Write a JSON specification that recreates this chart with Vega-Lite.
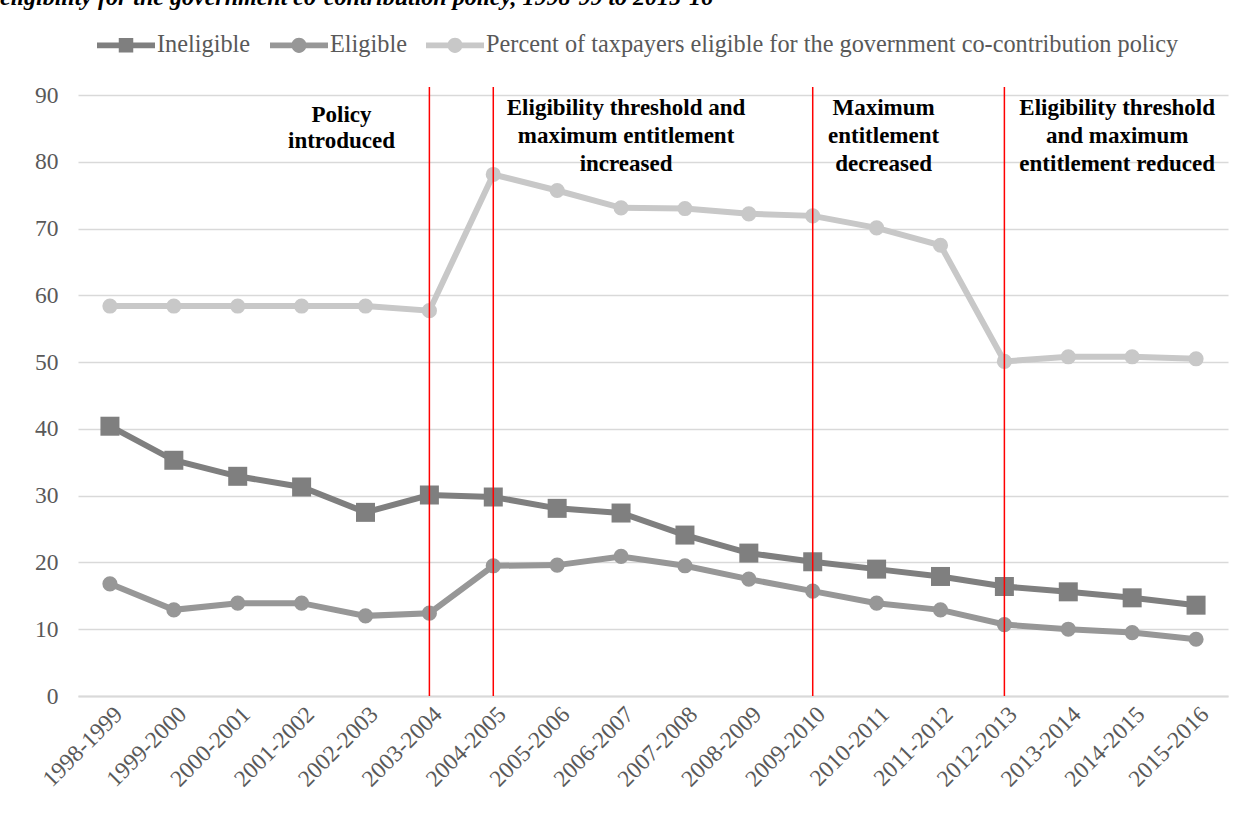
{
  "$schema": "https://vega.github.io/schema/vega-lite/v6.json",
  "width": 1150,
  "height": 601,
  "autosize": {"type": "none"},
  "padding": {"left": 78, "top": 95, "right": 24, "bottom": 118},
  "background": "#ffffff",
  "title": {
    "text": "eligibility for the government co-contribution policy, 1998-99 to 2015-16",
    "anchor": "start",
    "frame": "group",
    "font": "Liberation Serif",
    "fontSize": 24,
    "fontStyle": "italic",
    "fontWeight": "bold",
    "color": "#000000",
    "baseline": "alphabetic",
    "offset": -13,
    "dx": -78
  },
  "datasets": {
    "series": [
      {"period": "1998-1999", "series": "Ineligible", "value": 40.4},
      {"period": "1999-2000", "series": "Ineligible", "value": 35.3},
      {"period": "2000-2001", "series": "Ineligible", "value": 32.9},
      {"period": "2001-2002", "series": "Ineligible", "value": 31.3},
      {"period": "2002-2003", "series": "Ineligible", "value": 27.5},
      {"period": "2003-2004", "series": "Ineligible", "value": 30.1},
      {"period": "2004-2005", "series": "Ineligible", "value": 29.8},
      {"period": "2005-2006", "series": "Ineligible", "value": 28.1},
      {"period": "2006-2007", "series": "Ineligible", "value": 27.4},
      {"period": "2007-2008", "series": "Ineligible", "value": 24.1},
      {"period": "2008-2009", "series": "Ineligible", "value": 21.4},
      {"period": "2009-2010", "series": "Ineligible", "value": 20.1},
      {"period": "2010-2011", "series": "Ineligible", "value": 19.0},
      {"period": "2011-2012", "series": "Ineligible", "value": 17.9},
      {"period": "2012-2013", "series": "Ineligible", "value": 16.4},
      {"period": "2013-2014", "series": "Ineligible", "value": 15.6},
      {"period": "2014-2015", "series": "Ineligible", "value": 14.7},
      {"period": "2015-2016", "series": "Ineligible", "value": 13.6},
      {"period": "1998-1999", "series": "Eligible", "value": 16.8},
      {"period": "1999-2000", "series": "Eligible", "value": 12.9},
      {"period": "2000-2001", "series": "Eligible", "value": 13.9},
      {"period": "2001-2002", "series": "Eligible", "value": 13.9},
      {"period": "2002-2003", "series": "Eligible", "value": 12.0},
      {"period": "2003-2004", "series": "Eligible", "value": 12.4},
      {"period": "2004-2005", "series": "Eligible", "value": 19.5},
      {"period": "2005-2006", "series": "Eligible", "value": 19.6},
      {"period": "2006-2007", "series": "Eligible", "value": 20.9},
      {"period": "2007-2008", "series": "Eligible", "value": 19.5},
      {"period": "2008-2009", "series": "Eligible", "value": 17.5},
      {"period": "2009-2010", "series": "Eligible", "value": 15.7},
      {"period": "2010-2011", "series": "Eligible", "value": 13.9},
      {"period": "2011-2012", "series": "Eligible", "value": 12.9},
      {"period": "2012-2013", "series": "Eligible", "value": 10.7},
      {"period": "2013-2014", "series": "Eligible", "value": 10.0},
      {"period": "2014-2015", "series": "Eligible", "value": 9.5},
      {"period": "2015-2016", "series": "Eligible", "value": 8.5},
      {"period": "1998-1999", "series": "Percent of taxpayers eligible for the government co-contribution policy", "value": 58.4},
      {"period": "1999-2000", "series": "Percent of taxpayers eligible for the government co-contribution policy", "value": 58.4},
      {"period": "2000-2001", "series": "Percent of taxpayers eligible for the government co-contribution policy", "value": 58.4},
      {"period": "2001-2002", "series": "Percent of taxpayers eligible for the government co-contribution policy", "value": 58.4},
      {"period": "2002-2003", "series": "Percent of taxpayers eligible for the government co-contribution policy", "value": 58.4},
      {"period": "2003-2004", "series": "Percent of taxpayers eligible for the government co-contribution policy", "value": 57.7},
      {"period": "2004-2005", "series": "Percent of taxpayers eligible for the government co-contribution policy", "value": 78.1},
      {"period": "2005-2006", "series": "Percent of taxpayers eligible for the government co-contribution policy", "value": 75.7},
      {"period": "2006-2007", "series": "Percent of taxpayers eligible for the government co-contribution policy", "value": 73.1},
      {"period": "2007-2008", "series": "Percent of taxpayers eligible for the government co-contribution policy", "value": 73.0},
      {"period": "2008-2009", "series": "Percent of taxpayers eligible for the government co-contribution policy", "value": 72.2},
      {"period": "2009-2010", "series": "Percent of taxpayers eligible for the government co-contribution policy", "value": 71.9},
      {"period": "2010-2011", "series": "Percent of taxpayers eligible for the government co-contribution policy", "value": 70.1},
      {"period": "2011-2012", "series": "Percent of taxpayers eligible for the government co-contribution policy", "value": 67.5},
      {"period": "2012-2013", "series": "Percent of taxpayers eligible for the government co-contribution policy", "value": 50.1},
      {"period": "2013-2014", "series": "Percent of taxpayers eligible for the government co-contribution policy", "value": 50.8},
      {"period": "2014-2015", "series": "Percent of taxpayers eligible for the government co-contribution policy", "value": 50.8},
      {"period": "2015-2016", "series": "Percent of taxpayers eligible for the government co-contribution policy", "value": 50.5}
    ],
    "changes": [
      {"period": "2003-2004", "bottom": 0, "top": 91.2},
      {"period": "2004-2005", "bottom": 0, "top": 91.2},
      {"period": "2009-2010", "bottom": 0, "top": 91.2},
      {"period": "2012-2013", "bottom": 0, "top": 91.2}
    ]
  },
  "encoding": {
    "x": {
      "field": "period",
      "type": "ordinal",
      "sort": null,
      "scale": {"type": "point", "padding": 0.5},
      "axis": {
        "title": null,
        "labelAngle": -45,
        "labelFont": "Liberation Serif",
        "labelFontSize": 23.5,
        "labelColor": "#595959",
        "labelPadding": 6,
        "ticks": false,
        "domainColor": "#d9d9d9",
        "domainWidth": 2,
        "grid": false
      }
    }
  },
  "layer": [
    {
      "data": {"name": "series"},
      "mark": {"type": "line", "strokeWidth": 6, "clip": false},
      "encoding": {
        "y": {
          "field": "value",
          "type": "quantitative",
          "scale": {"domain": [0, 90], "nice": false, "zero": true},
          "axis": {
            "title": null,
            "values": [0, 10, 20, 30, 40, 50, 60, 70, 80, 90],
            "labelFont": "Liberation Serif",
            "labelFontSize": 23.5,
            "labelColor": "#595959",
            "labelPadding": 20,
            "ticks": false,
            "domain": false,
            "gridColor": "#d9d9d9",
            "gridWidth": 1.6
          }
        },
        "color": {
          "field": "series",
          "type": "nominal",
          "sort": null,
          "scale": {
            "domain": ["Ineligible", "Eligible", "Percent of taxpayers eligible for the government co-contribution policy"],
            "range": ["#7f7f7f", "#979797", "#c8c8c8"]
          }
        },
        "detail": {"field": "series"}
      }
    },
    {
      "data": {"name": "series"},
      "transform": [{"filter": "datum.series === 'Ineligible'"}],
      "mark": {"type": "point", "shape": "square", "size": 361, "filled": true, "opacity": 1, "strokeWidth": 0},
      "encoding": {
        "y": {"field": "value", "type": "quantitative"},
        "color": {"field": "series", "type": "nominal", "sort": null}
      }
    },
    {
      "data": {"name": "series"},
      "transform": [{"filter": "datum.series !== 'Ineligible'"}],
      "mark": {"type": "point", "shape": "circle", "size": 230, "filled": true, "opacity": 1, "strokeWidth": 0},
      "encoding": {
        "y": {"field": "value", "type": "quantitative"},
        "color": {"field": "series", "type": "nominal", "sort": null}
      }
    },
    {
      "data": {"name": "series"},
      "mark": {"type": "point", "filled": true, "opacity": 0, "size": 10, "strokeWidth": 0},
      "encoding": {
        "y": {"field": "value", "type": "quantitative"},
        "color": {
          "field": "series",
          "type": "nominal",
          "sort": null,
          "legend": {
            "title": null,
            "orient": "none",
            "direction": "horizontal",
            "legendX": 19,
            "legendY": -79,
            "labelFont": "Liberation Serif",
            "labelFontSize": 24.3,
            "labelColor": "#595959",
            "labelOffset": 2,
            "labelLimit": 0,
            "columnPadding": 19,
            "symbolSize": 3364,
            "symbolStrokeWidth": 0,
            "symbolOpacity": 1
          }
        },
        "shape": {
          "field": "series",
          "type": "nominal",
          "sort": null,
          "scale": {
            "domain": ["Ineligible", "Eligible", "Percent of taxpayers eligible for the government co-contribution policy"],
            "range": [
              "M-1,-0.1L1,-0.1L1,0.1L-1,0.1Z M-0.25,-0.25L0.25,-0.25L0.25,0.25L-0.25,0.25Z",
              "M-1,-0.1L1,-0.1L1,0.1L-1,0.1Z M-0.26,0A0.26,0.26,0,1,1,0.26,0A0.26,0.26,0,1,1,-0.26,0Z",
              "M-1,-0.1L1,-0.1L1,0.1L-1,0.1Z M-0.26,0A0.26,0.26,0,1,1,0.26,0A0.26,0.26,0,1,1,-0.26,0Z"
            ]
          },
          "legend": {
            "title": null,
            "orient": "none",
            "direction": "horizontal",
            "legendX": 19,
            "legendY": -79,
            "labelFont": "Liberation Serif",
            "labelFontSize": 24.3,
            "labelColor": "#595959",
            "labelOffset": 2,
            "labelLimit": 0,
            "columnPadding": 19,
            "symbolSize": 3364,
            "symbolStrokeWidth": 0,
            "symbolOpacity": 1
          }
        }
      }
    },
    {
      "data": {"name": "changes"},
      "mark": {"type": "rule", "color": "#ff0000", "strokeWidth": 1.5, "clip": false},
      "encoding": {
        "y": {"field": "bottom", "type": "quantitative"},
        "y2": {"field": "top"}
      }
    },
    {
      "data": {"values": [{"period": "2002-2003", "y": 87.0, "label": ["Policy", "introduced"]}]},
      "mark": {"type": "text", "font": "Liberation Serif", "fontSize": 23, "fontWeight": "bold", "color": "#000000", "lineHeight": 26, "baseline": "middle", "align": "center", "dx": -24},
      "encoding": {
        "y": {"field": "y", "type": "quantitative"},
        "text": {"field": "label"}
      }
    },
    {
      "data": {"values": [{"period": "2006-2007", "y": 88.0, "label": ["Eligibility threshold and", "maximum entitlement", "increased"]}]},
      "mark": {"type": "text", "font": "Liberation Serif", "fontSize": 23, "fontWeight": "bold", "color": "#000000", "lineHeight": 28, "baseline": "middle", "align": "center", "dx": 5},
      "encoding": {
        "y": {"field": "y", "type": "quantitative"},
        "text": {"field": "label"}
      }
    },
    {
      "data": {"values": [{"period": "2010-2011", "y": 88.0, "label": ["Maximum", "entitlement", "decreased"]}]},
      "mark": {"type": "text", "font": "Liberation Serif", "fontSize": 23, "fontWeight": "bold", "color": "#000000", "lineHeight": 28, "baseline": "middle", "align": "center", "dx": 7},
      "encoding": {
        "y": {"field": "y", "type": "quantitative"},
        "text": {"field": "label"}
      }
    },
    {
      "data": {"values": [{"period": "2014-2015", "y": 88.0, "label": ["Eligibility threshold", "and maximum", "entitlement reduced"]}]},
      "mark": {"type": "text", "font": "Liberation Serif", "fontSize": 23, "fontWeight": "bold", "color": "#000000", "lineHeight": 28, "baseline": "middle", "align": "center", "dx": -15},
      "encoding": {
        "y": {"field": "y", "type": "quantitative"},
        "text": {"field": "label"}
      }
    }
  ],
  "config": {
    "view": {"stroke": null},
    "font": "Liberation Serif"
  }
}
